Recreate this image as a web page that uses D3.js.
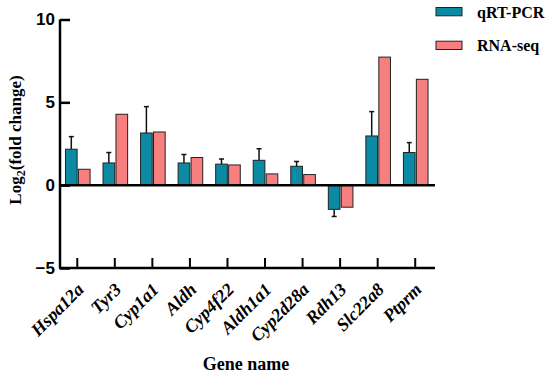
<!DOCTYPE html>
<html>
<head>
<meta charset="utf-8">
<script src="https://cdn.jsdelivr.net/npm/d3@7"></script>
<style>
  body { margin: 0; background: #fff; }
  svg { display: block; }
</style>
</head>
<body>
<svg id="chart" width="550" height="375"></svg>
<script>
const genes = ['Hspa12a', 'Tyr3', 'Cyp1a1', 'Aldh', 'Cyp4f22', 'Aldh1a1', 'Cyp2d28a', 'Rdh13', 'Slc22a8', 'Ptprm'];
const qpcr = [2.17, 1.34, 3.15, 1.34, 1.27, 1.5, 1.14, -1.46, 2.97, 1.97];
const qpcrErr = [0.76, 0.63, 1.59, 0.51, 0.31, 0.7, 0.29, 0.43, 1.47, 0.6];
const rnaseq = [0.96, 4.28, 3.21, 1.67, 1.22, 0.68, 0.64, -1.33, 7.73, 6.39];
const seriesNames = ['qRT-PCR', 'RNA-seq'];
const colors = ['#0c8aa4', '#f87f7f'];
const yTicks = [-5, 0, 5, 10];

const svg = d3.select('#chart');
const serif = "'Liberation Serif', 'Times New Roman', serif";
const sans = "'Liberation Sans', Arial, sans-serif";

const y = d3.scaleLinear().domain([-5, 10]).range([268, 19.5]);
const x = d3.scaleBand().domain(genes).range([58.5, 434]);
const inner = d3.scaleBand().domain(seriesNames).range([-11.8, 12.8]).paddingInner(0.1);

// bars
const rows = genes.map((g, i) => ({ gene: g, vals: [qpcr[i], rnaseq[i]], err: qpcrErr[i] }));
const groups = svg.append('g').selectAll('g')
  .data(rows)
  .join('g')
  .attr('transform', d => `translate(${x(d.gene) + x.bandwidth() / 2},0)`);

groups.each(function (d) {
  const g = d3.select(this);
  // error bar on qRT-PCR
  const v = d.vals[0];
  const end = v >= 0 ? v + d.err : v - d.err;
  const cx = inner(seriesNames[0]) + inner.bandwidth() / 2;
  g.append('line')
    .attr('x1', cx).attr('x2', cx)
    .attr('y1', y(v)).attr('y2', y(end))
    .attr('stroke', '#111').attr('stroke-width', 1.5);
  g.append('line')
    .attr('x1', cx - 2.5).attr('x2', cx + 2.5)
    .attr('y1', y(end)).attr('y2', y(end))
    .attr('stroke', '#111').attr('stroke-width', 1.5);

  g.selectAll('rect')
    .data(d.vals.map((val, k) => ({ val, k })))
    .join('rect')
    .attr('x', e => inner(seriesNames[e.k]))
    .attr('width', inner.bandwidth())
    .attr('y', e => y(Math.max(0, e.val)))
    .attr('height', e => Math.abs(y(e.val) - y(0)))
    .attr('fill', e => colors[e.k])
    .attr('stroke', '#222')
    .attr('stroke-width', 1);
});

// zero line
svg.append('line')
  .attr('x1', 59).attr('x2', 435)
  .attr('y1', y(0)).attr('y2', y(0))
  .attr('stroke', '#000').attr('stroke-width', 2.5);

// y axis
const yAxis = svg.append('g')
  .attr('transform', 'translate(60,0)')
  .call(d3.axisLeft(y).tickValues(yTicks).tickSize(-10).tickPadding(5)
    .tickFormat(d => d < 0 ? '\u2212' + Math.abs(d) : d));
yAxis.select('.domain').attr('stroke-width', 2.5).attr('d', `M0,${y(10)}V${y(-5)}`);
yAxis.selectAll('.tick line').attr('stroke-width', 2.5);
yAxis.selectAll('.tick text')
  .attr('font-family', sans).attr('font-weight', 'bold').attr('font-size', 17).attr('fill', '#000');

// x axis
const xAxis = svg.append('g')
  .attr('transform', `translate(0,${y(-5)})`)
  .call(d3.axisBottom(x).tickSize(-10).tickSizeOuter(0));
xAxis.select('.domain').attr('stroke-width', 2.5).attr('d', 'M59,0H435');
xAxis.selectAll('.tick line').attr('stroke-width', 2);
xAxis.selectAll('.tick text')
  .attr('font-family', serif).attr('font-weight', 'bold').attr('font-style', 'italic')
  .attr('font-size', 18).attr('fill', '#000')
  .attr('text-anchor', 'end')
  .attr('transform', 'translate(-2,13) rotate(-45)')
  .attr('dy', '0.75em')
  .attr('y', 0).attr('x', 0);

// axis titles
svg.append('text')
  .attr('transform', 'translate(21,140) rotate(-90)')
  .attr('text-anchor', 'middle')
  .attr('font-family', serif).attr('font-weight', 'bold').attr('font-size', 17)
  .call(t => {
    t.append('tspan').text('Log');
    t.append('tspan').attr('font-size', 12).attr('dy', 4).text('2');
    t.append('tspan').attr('dy', -4).text('(fold change)');
  });

svg.append('text')
  .attr('x', 246).attr('y', 370)
  .attr('text-anchor', 'middle')
  .attr('font-family', serif).attr('font-weight', 'bold').attr('font-size', 18)
  .text('Gene name');

// legend
const legend = svg.append('g').selectAll('g')
  .data(seriesNames)
  .join('g')
  .attr('transform', (d, i) => `translate(436,${7.5 + i * 33.7})`);
legend.append('rect')
  .attr('width', 26).attr('height', 8.3)
  .attr('fill', (d, i) => colors[i])
  .attr('stroke', '#222').attr('stroke-width', 1);
legend.append('text')
  .attr('x', 41).attr('y', 10)
  .attr('font-family', serif).attr('font-weight', 'bold').attr('font-size', 16)
  .text(d => d);
</script>
</body>
</html>
